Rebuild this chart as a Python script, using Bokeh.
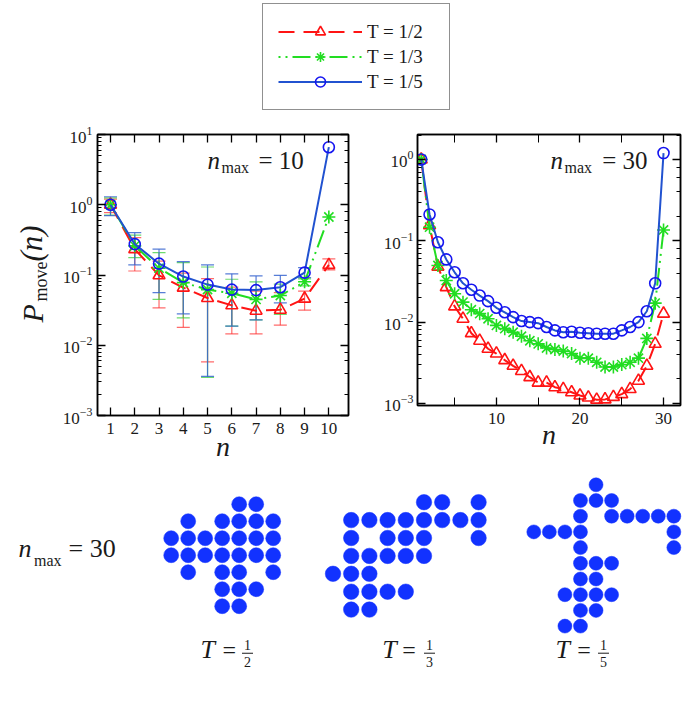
import math
from bokeh.plotting import figure
from bokeh.models import (ColumnDataSource, Range1d, FixedTicker, LinearAxis, LogAxis,
                          Whisker, TeeHead, Label, Legend, LegendItem, BoxAnnotation,
                          CustomJSTickFormatter)
from bokeh.layouts import column, row
from bokeh.embed import file_html
from bokeh.resources import INLINE

# ------------------------------------------------------------------ data
series_labels = ["T = 1/2", "T = 1/3", "T = 1/5"]

# n_max = 10 panel
n10 = [1, 2, 3, 4, 5, 6, 7, 8, 9, 10]
red10 = [1.0, 0.233, 0.099, 0.066, 0.047, 0.037, 0.031, 0.032, 0.046, 0.139]
green10 = [1.0, 0.26, 0.125, 0.078, 0.062, 0.055, 0.045, 0.051, 0.080, 0.67]
blue10 = [1.0, 0.275, 0.145, 0.095, 0.073, 0.062, 0.061, 0.067, 0.108, 6.6]

red10_lo = [0.77, 0.114, 0.034, 0.018, 0.0058, 0.0145, 0.0145, 0.0193, 0.0316, 0.118]
red10_hi = [1.20, 0.34, 0.158, 0.106, 0.089, 0.067, 0.059, 0.056, 0.059, 0.17]
green10_lo = [0.71, 0.177, 0.045, 0.0246, 0.0035, 0.0187, 0.023, 0.0274, 0.070]
green10_hi = [1.25, 0.37, 0.208, 0.15, 0.13, 0.087, 0.080, 0.074, 0.088]
blue10_lo = [0.70, 0.139, 0.056, 0.028, 0.0036, 0.0187, 0.023, 0.040, 0.092]
blue10_hi = [1.30, 0.40, 0.233, 0.155, 0.139, 0.104, 0.097, 0.099, 0.127]

# n_max = 30 panel
n30 = list(range(1, 31))
red30 = [1.0, 0.155, 0.048, 0.0269, 0.0156, 0.0110, 0.0073, 0.0059, 0.0047, 0.0041,
         0.0034, 0.0029, 0.0025, 0.0021, 0.0018, 0.0018, 0.00158, 0.0015, 0.00137, 0.00125,
         0.00118, 0.00111, 0.00112, 0.0012, 0.0013, 0.0015, 0.0019, 0.0029, 0.0054, 0.0127]
green30 = [1.0, 0.147, 0.0497, 0.0325, 0.0223, 0.0176, 0.0142, 0.0127, 0.0110, 0.0091,
           0.0083, 0.0075, 0.0067, 0.0059, 0.0054, 0.0048, 0.0046, 0.0044, 0.0041, 0.0036,
           0.0036, 0.0032, 0.0028, 0.0028, 0.0030, 0.0032, 0.0036, 0.0063, 0.0171, 0.136]
blue30 = [1.0, 0.211, 0.096, 0.059, 0.041, 0.030, 0.025, 0.0212, 0.0181, 0.0150,
          0.0132, 0.0115, 0.0103, 0.0100, 0.0097, 0.0087, 0.0079, 0.0075, 0.0076, 0.0074,
          0.0073, 0.0072, 0.0072, 0.0072, 0.0079, 0.0087, 0.0100, 0.0136, 0.030, 1.2]

# cluster snapshots (grid column / row of each of the 30 particles)
cl_half_col = [4, 5, 1, 3, 4, 5, 6, 0, 1, 2, 3, 4, 5, 6, 0, 1, 2, 3, 4, 5, 6,
               1, 3, 4, 6, 3, 4, 5, 3, 4]
cl_half_row = [0, 0, 1, 1, 1, 1, 1, 2, 2, 2, 2, 2, 2, 2, 3, 3, 3, 3, 3, 3, 3,
               4, 4, 4, 4, 5, 5, 5, 6, 6]
cl_third_col = [5, 6, 8, 1, 2, 3, 4, 5, 6, 7, 8, 1, 3, 4, 5, 8, 1, 2, 3, 4, 5,
                0, 1, 2, 1, 2, 3, 4, 1, 2]
cl_third_row = [0, 0, 0, 1, 1, 1, 1, 1, 1, 1, 1, 2, 2, 2, 2, 2, 3, 3, 3, 3, 3,
                4, 4, 4, 5, 5, 5, 5, 6, 6]
cl_fifth_col = [4, 3, 4, 5, 3, 5, 6, 7, 8, 9, 0, 1, 2, 3, 9, 3, 9, 3, 4, 5,
                3, 4, 2, 3, 4, 5, 3, 4, 2, 3]
cl_fifth_row = [0, 1, 1, 1, 2, 2, 2, 2, 2, 2, 3, 3, 3, 3, 3, 4, 4, 5, 5, 5,
                6, 6, 7, 7, 7, 7, 8, 8, 9, 9]

# ------------------------------------------------------------------ style
SERIF = "Liberation Serif"
TXT = "#1a1a1a"
RED = "#ff1414"
GREEN = "#22dd22"
BLUE_LINE = "#2152d0"
BLUE_MK = "#1515f0"
DOT = "#1232ff"
RED_DASH = "16 9"
GREEN_DASH = "2 5 2 5 18 5"
BLANK = CustomJSTickFormatter(code="return ''")
MID = 0.34  # baseline -> middle of the text box, in em


def lab(p, x, y, text, size, style="normal", align="left", rotated=False):
    """x, y: position of the text's baseline start, screen px from the frame's bottom-left."""
    if rotated:
        x, angle = x - MID * size, math.pi / 2
    else:
        y, angle = y + MID * size, 0.0
    p.add_layout(Label(x=x, y=y, x_units="screen", y_units="screen", text=text,
                       text_font=SERIF, text_font_size=f"{size}px", text_font_style=style,
                       text_align=align, text_baseline="middle", angle=angle,
                       text_color=TXT))


def style_axis(ax, show, standoff=5, minor_len=4):
    ax.axis_line_color = "black"
    ax.axis_line_width = 1.5
    ax.major_tick_in = 8
    ax.major_tick_out = 0
    ax.minor_tick_in = minor_len
    ax.minor_tick_out = 0
    ax.major_tick_line_color = "black"
    ax.major_tick_line_width = 1.3
    ax.minor_tick_line_color = "black"
    ax.minor_tick_line_width = 1.0
    ax.major_label_text_font = SERIF
    ax.major_label_text_color = TXT
    ax.major_label_text_font_size = "17px"
    ax.major_label_standoff = standoff
    if not show:
        ax.formatter = BLANK
        ax.major_label_text_font_size = "1px"
        ax.major_label_standoff = 0


def log_panel(width, height, xr, yr, borders, xticker, x_minor_len, label_standoff):
    p = figure(width=width, height=height, x_range=Range1d(*xr), y_range=Range1d(*yr),
               y_axis_type="log", output_backend="svg", toolbar_location=None,
               min_border_left=borders[0], min_border_right=borders[1],
               min_border_top=borders[2], min_border_bottom=borders[3])
    p.grid.visible = False
    p.outline_line_color = "black"
    p.outline_line_width = 1.5
    p.xaxis.ticker = xticker
    p.add_layout(LinearAxis(ticker=xticker), "above")
    p.add_layout(LogAxis(), "right")
    for ax in p.below:
        style_axis(ax, True, standoff=7, minor_len=x_minor_len)
        ax.axis_label = "n"
        ax.axis_label_text_font = SERIF
        ax.axis_label_text_font_style = "italic"
        ax.axis_label_text_font_size = "28px"
        ax.axis_label_text_color = TXT
        ax.axis_label_standoff = label_standoff
    for ax in p.above:
        style_axis(ax, False, minor_len=x_minor_len)
    for ax in p.left:
        style_axis(ax, True, standoff=5)
    for ax in p.right:
        style_axis(ax, False)
    return p


def series_renderers(p, x, ys, sizes):
    specs = [
        (ys[0], RED, RED_DASH, "triangle", sizes[0]),
        (ys[1], GREEN, GREEN_DASH, "asterisk", sizes[1]),
        (ys[2], BLUE_LINE, "solid", "circle", sizes[2]),
    ]
    out = []
    for y, col, dash, mk, sz in specs:
        lr = p.line(x, y, line_color=col, line_width=2, line_dash=dash)
        mcol = BLUE_MK if mk == "circle" else col
        sr = p.scatter(x, y, marker=mk, size=sz, line_color=mcol, fill_alpha=0, line_width=1.6)
        out.append((lr, sr))
    return out


def add_whiskers(p, x, lo, hi, col, alpha):
    src = ColumnDataSource(dict(x=x[:len(lo)], lo=lo, hi=hi))
    p.add_layout(Whisker(source=src, base="x", lower="lo", upper="hi",
                         line_color=col, line_alpha=alpha, line_width=1.2,
                         upper_head=TeeHead(size=13, line_color=col, line_alpha=alpha, line_width=1.2),
                         lower_head=TeeHead(size=13, line_color=col, line_alpha=alpha, line_width=1.2)))


# ------------------------------------------------------------------ legend strip
# the legend's sample renderers carry the n_max = 10 series, but lie outside this strip's ranges
leg = figure(width=692, height=118, x_range=Range1d(-3, -2), y_range=Range1d(0, 1),
             output_backend="svg", toolbar_location=None, min_border=0,
             x_axis_location=None, y_axis_location=None)
leg.grid.visible = False
leg.outline_line_color = None
pairs = series_renderers(leg, n10, [red10, green10, blue10], [10, 11, 10])
items = [LegendItem(label=label, renderers=[lr, sr]) for label, (lr, sr) in zip(series_labels, pairs)]
legend = Legend(items=items, location=(262, 8), margin=0, padding=15, spacing=0,
                glyph_width=84, glyph_height=25, label_height=25, label_width=67,
                label_standoff=5, label_text_font=SERIF, label_text_font_size="19px",
                label_text_color=TXT, border_line_color="#222222", border_line_width=1.6,
                background_fill_color="white", background_fill_alpha=1)
leg.add_layout(legend)

# ------------------------------------------------------------------ y label strip
ylab = figure(width=52, height=357, x_range=Range1d(0, 1), y_range=Range1d(0, 1),
              output_backend="svg", toolbar_location=None, min_border_left=0,
              min_border_right=0, min_border_top=16, min_border_bottom=60,
              x_axis_location=None, y_axis_location=None)
ylab.grid.visible = False
ylab.outline_line_color = None
lab(ylab, 42, 93, "P", 30, "italic", rotated=True)
lab(ylab, 47, 114, "move", 18, rotated=True)
lab(ylab, 42, 154, "(n)", 31, "italic", rotated=True)

# ------------------------------------------------------------------ n_max = 10 panel
left = log_panel(321, 357, (0.464, 10.81), (1e-3, 1e1), (45, 25, 16, 60),
                 FixedTicker(ticks=n10, minor_ticks=[]), 4, -6)
add_whiskers(left, n10, red10_lo, red10_hi, "#ff3a3a", 0.75)
add_whiskers(left, n10, green10_lo, green10_hi, "#3ccf3c", 0.75)
add_whiskers(left, n10, blue10_lo, blue10_hi, "#3a66d0", 0.85)
series_renderers(left, n10, [red10, green10, blue10], [12, 13, 11])
lab(left, 110, 246.5, "n", 25, "italic")
lab(left, 124, 243, "max", 16)
lab(left, 161, 246.5, "= 10", 25)

# ------------------------------------------------------------------ n_max = 30 panel
right = log_panel(319, 347, (0.557, 32.03), (0.000942, 2.03), (44, 12, 16, 60),
                  FixedTicker(ticks=[10, 20, 30], minor_ticks=[5, 15, 25]), 8, -8)
for ax in right.left:
    ax.major_label_standoff = 4
series_renderers(right, n30, [red30, green30, blue30], [12, 13, 11])
lab(right, 133, 236.5, "n", 25, "italic")
lab(right, 147, 233, "max", 16)
lab(right, 184.7, 236.5, "= 30", 25)

# ------------------------------------------------------------------ cluster snapshots
PAGE_L, PAGE_R, PAGE_T, PAGE_B = 0, 692, 475, 697
bottom = figure(width=PAGE_R - PAGE_L, height=PAGE_B - PAGE_T,
                x_range=Range1d(0, 1), y_range=Range1d(0, 1),
                output_backend="svg", toolbar_location=None, min_border=0,
                x_axis_location=None, y_axis_location=None)
bottom.grid.visible = False
bottom.outline_line_color = None

# page placement of each snapshot grid: (x of column 0, column pitch, y of row 0, row pitch, dot size)
placements = [(170.7, 17.0, 503.7, 17.0, 15),
              (332.5, 18.2, 501.7, 17.9, 15.5),
              (533.3, 15.56, 484.3, 15.7, 14)]
clusters = [(cl_half_col, cl_half_row), (cl_third_col, cl_third_row),
            (cl_fifth_col, cl_fifth_row)]
xr, yr = {}, {}
for k, (x0, sx, y0, sy, d) in enumerate(placements):
    xr[f"cx{k}"] = Range1d((PAGE_L - x0) / sx, (PAGE_R - x0) / sx)
    yr[f"cy{k}"] = Range1d((PAGE_B - y0) / sy, (PAGE_T - y0) / sy)
bottom.extra_x_ranges = xr
bottom.extra_y_ranges = yr
for k, ((x0, sx, y0, sy, d), (cc, rr)) in enumerate(zip(placements, clusters)):
    bottom.scatter(cc, rr, x_range_name=f"cx{k}", y_range_name=f"cy{k}", marker="circle",
                   size=d, fill_color=DOT, line_color=DOT, line_width=0.5)

lab(bottom, 18, PAGE_B - 556.7, "n", 26, "italic")
lab(bottom, 33.5, PAGE_B - 565, "max", 16)
lab(bottom, 68, PAGE_B - 556.7, "= 30", 26)

fractions = [("1", "2"), ("1", "3"), ("1", "5")]
t_pos = [(200, 222, 247), (381.7, 401.7, 429), (555, 576.7, 603)]
for (tx, ex, fx), (num, den) in zip(t_pos, fractions):
    lab(bottom, tx, PAGE_B - 658, "T", 26, "italic")
    lab(bottom, ex, PAGE_B - 658, "=", 24)
    lab(bottom, fx, PAGE_B - 649.5, num, 14, align="center")
    lab(bottom, fx, PAGE_B - 666.5, den, 14, align="center")
    bottom.add_layout(BoxAnnotation(left=fx - 5.5, right=fx + 5.5,
                                    bottom=PAGE_B - 653.2, top=PAGE_B - 652.2,
                                    left_units="screen", right_units="screen",
                                    bottom_units="screen", top_units="screen",
                                    fill_color=TXT, fill_alpha=1, line_alpha=0))

layout = column(leg, row(ylab, left, right), bottom)
open("out.html", "w").write(file_html(layout, INLINE))
